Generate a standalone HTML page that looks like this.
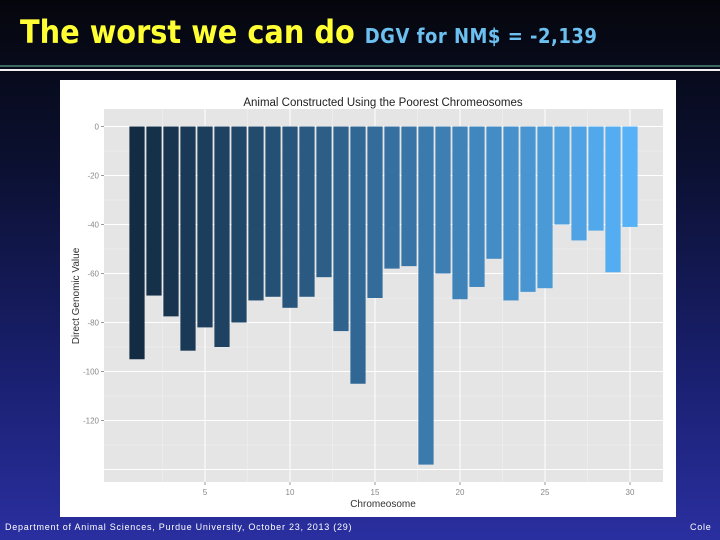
<!DOCTYPE html>
<html><head><meta charset="utf-8"><style>
body{margin:0;width:720px;height:540px;overflow:hidden;background:linear-gradient(180deg,#05060c 0%,#0b1030 30%,#1a2070 70%,#2a2fa0 100%);font-family:"Liberation Sans",sans-serif;position:relative}
.t{position:absolute;left:20px;top:13px;font-size:32px;font-weight:bold;color:#ffff33;font-family:"DejaVu Sans Condensed","DejaVu Sans",sans-serif;white-space:nowrap}
.t span{font-size:20px;color:#6cc0f0;letter-spacing:0.5px}
.foot{position:absolute;top:522px;font-size:9px;color:#fff;letter-spacing:0.75px;white-space:nowrap}
</style></head><body>
<div class="t">The worst we can do <span>DGV for NM$ = -2,139</span></div>
<div style="position:absolute;left:0;top:65px;width:720px;height:2px;background:#3a6a60"></div>
<div style="position:absolute;left:0;top:69px;width:720px;height:2px;background:#f0f0f0"></div>
<svg id="c" style="position:absolute;left:0;top:0" width="720" height="540"></svg>
<div class="foot" style="left:5px">Department of Animal Sciences, Purdue University, October 23, 2013 (29)</div>
<div class="foot" style="left:690px">Cole</div>
<script>
const categories=[1,2,3,4,5,6,7,8,9,10,11,12,13,14,15,16,17,18,19,20,21,22,23,24,25,26,27,28,29,30];
const values=[-95,-69,-77.5,-91.5,-82,-90,-80,-71,-69.5,-74,-69.5,-61.5,-83.5,-105,-70,-58,-57,-138,-60,-70.5,-65.5,-54,-71,-67.5,-66,-40,-46.5,-42.5,-59.5,-41];
const yTicks=[0,-20,-40,-60,-80,-100,-120];
const xTicks=[5,10,15,20,25,30];
const NS="http://www.w3.org/2000/svg",svg=document.getElementById('c');
function el(t,a,p){const e=document.createElementNS(NS,t);for(const k in a)e.setAttribute(k,a[k]);(p||svg).appendChild(e);return e;}
const px0=104,px1=663,py0=109,py1=482;
const X=v=>205+(v-5)*17, Y=v=>126.5-v*2.45;
let e=el('rect',{x:60,y:80,width:616,height:437,fill:'#fff'});

e=el('rect',{x:px0,y:py0,width:px1-px0,height:py1-py0,fill:'#e5e5e5'});

for(let v=10;v>-150;v-=10){const y=Y(v);if(y<py0||y>py1)continue;const major=v%20===0;
 e=el('line',{x1:px0,x2:px1,y1:y,y2:y,stroke:major?'#fff':'#f2f2f2','stroke-width':major?1:0.5});
 }
for(let v=2.5;v<=32.5;v+=2.5){const x=X(v);if(x<px0||x>px1)continue;const major=v%5===0;
 e=el('line',{x1:x,x2:x,y1:py0,y2:py1,stroke:major?'#fff':'#f2f2f2','stroke-width':major?1:0.5});
 }
const c0=[19,43,67],c1=[86,177,247];
categories.forEach((c,i)=>{const f=(c-1)/29;const col=`rgb(${c0.map((a,j)=>Math.round(a+(c1[j]-a)*f)).join(',')})`;
 const y0=Y(0),y1=Y(values[i]);
 const b=el('rect',{x:X(c)-7.6,y:Math.min(y0,y1),width:15.2,height:Math.abs(y1-y0),fill:col});
 });
yTicks.forEach(v=>{const y=Y(v);
 e=el('line',{x1:px0-3,x2:px0,y1:y,y2:y,stroke:'#999'});
 const t=el('text',{x:px0-5,y:y+3,'text-anchor':'end','font-size':8,fill:'#888'});t.textContent=v;
 });
xTicks.forEach(v=>{const x=X(v);
 e=el('line',{x1:x,x2:x,y1:py1,y2:py1+3,stroke:'#999'});
 const t=el('text',{x:x,y:py1+13,'text-anchor':'middle','font-size':8,fill:'#888'});t.textContent=v;
 });
let t=el('text',{x:383,y:106,'text-anchor':'middle','font-size':11.5,fill:'#222'});t.textContent='Animal Constructed Using the Poorest Chromeosomes';

t=el('text',{x:383,y:507,'text-anchor':'middle','font-size':10,fill:'#333'});t.textContent='Chromeosome';

t=el('text',{x:0,y:0,'text-anchor':'middle','font-size':10,fill:'#333',transform:'translate(79,296) rotate(-90)'});t.textContent='Direct Genomic Value';

</script>
</body></html>
